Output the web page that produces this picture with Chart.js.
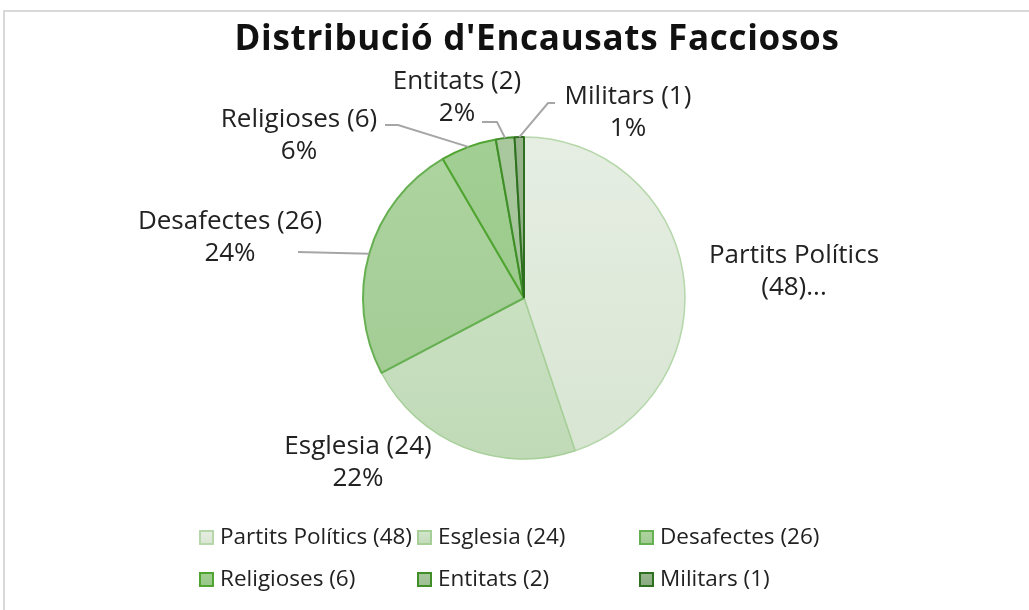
<!DOCTYPE html>
<html>
<head>
<meta charset="utf-8">
<title>Distribució d'Encausats Facciosos</title>
<script src="https://cdn.jsdelivr.net/npm/chart.js@4.4.1/dist/chart.umd.min.js"></script>
<style>
  html, body { margin: 0; padding: 0; background: #fff; overflow: hidden; }
  #wrap { position: relative; width: 1029px; height: 610px; }
  #frame { position: absolute; left: 3px; top: 10px; width: 1100px; height: 700px;
           border-top: 2px solid #d9d9d9; border-left: 2px solid #d9d9d9; }
  #pie { position: absolute; left: 0; top: 0; }
</style>
</head>
<body>
<div id="wrap">
  <div id="frame"></div>
  <canvas id="pie" width="1029" height="610"></canvas>
</div>
<script>
// data
const categories = ["Partits Polítics", "Esglesia", "Desafectes", "Religioses", "Entitats", "Militars"];
const counts = [48, 24, 26, 6, 2, 1];
// Excel cut the first data label short, keep it that way
const truncatedLabels = [0];

const chartTitle = "Distribució d'Encausats Facciosos";

// look
const topColors = ["#e6eee3", "#d2e6cb", "#aed4a0", "#a2cf93", "#a9c89e", "#98b58e"];
const bottomColors = ["#d8e5d2", "#c0dab7", "#a0ca92", "#96c787", "#9dbd92", "#8aa981"];
const borderColors = ["#b5d7aa", "#a6cf98", "#66b052", "#4fa52f", "#3f8e28", "#2f6f20"];
const borderWidths = [1.5, 1.5, 2, 2, 2, 2];

const FONT = "'Open Sans', 'DejaVu Sans', sans-serif";
const TEXT = "#222";
const LEADER = "#a6a6a6";

// label placement relative to pie centre (line 1 centre), leader start/elbow
const labelPos = [
  { dx: 270, dy: -42 },
  { dx: -166, dy: 149 },
  { dx: -294, dy: -76 },
  { dx: -225, dy: -178 },
  { dx: -67, dy: -216 },
  { dx: 104, dy: -201 }
];
const leaders = [
  null,
  null,
  [[-226, -46]],
  [[-139, -173], [-126, -173]],
  [[-42, -176], [-27, -176]],
  [[31, -195], [24, -195]]
];

const total = counts.reduce((a, b) => a + b, 0);
const legendLabels = categories.map((c, i) => c + " (" + counts[i] + ")");

function labelLines(i) {
  if (truncatedLabels.includes(i)) return [categories[i], "(" + counts[i] + ")..."];
  return [legendLabels[i], Math.round(counts[i] / total * 100) + "%"];
}

function sliceFill(c) {
  const area = c.chart.chartArea;
  const i = c.dataIndex;
  if (!area) return topColors[i];
  const g = c.chart.ctx.createLinearGradient(0, area.top, 0, area.bottom);
  g.addColorStop(0, topColors[i]);
  g.addColorStop(1, bottomColors[i]);
  return g;
}

const excelLabels = {
  id: "excelLabels",
  afterDatasetsDraw(chart) {
    const ctx = chart.ctx;
    const arcs = chart.getDatasetMeta(0).data;
    ctx.save();
    // leader lines
    ctx.strokeStyle = LEADER;
    ctx.lineWidth = 2;
    arcs.forEach((arc, i) => {
      const pts = leaders[i];
      if (!pts) return;
      const mid = (arc.startAngle + arc.endAngle) / 2;
      const ex = arc.x + Math.cos(mid) * arc.outerRadius;
      const ey = arc.y + Math.sin(mid) * arc.outerRadius;
      ctx.beginPath();
      ctx.moveTo(arc.x + pts[0][0], arc.y + pts[0][1]);
      for (let k = 1; k < pts.length; k++) ctx.lineTo(arc.x + pts[k][0], arc.y + pts[k][1]);
      ctx.lineTo(ex, ey);
      ctx.stroke();
    });
    // label text
    ctx.fillStyle = TEXT;
    ctx.font = "26px " + FONT;
    ctx.textAlign = "center";
    ctx.textBaseline = "middle";
    arcs.forEach((arc, i) => {
      const p = labelPos[i];
      labelLines(i).forEach((t, k) => {
        ctx.fillText(t, arc.x + p.dx, arc.y + p.dy + k * 32);
      });
    });
    ctx.restore();
  },
  afterDraw(chart) {
    const ctx = chart.ctx;
    ctx.save();
    // title
    ctx.fillStyle = "#111";
    ctx.font = "bold 35px " + FONT;
    ctx.letterSpacing = "0.7px";
    ctx.textAlign = "center";
    ctx.textBaseline = "middle";
    ctx.fillText(chartTitle, 537, 40);
    ctx.letterSpacing = "0px";
    // legend grid, three columns
    const cols = [200, 418, 640];
    const rows = [538, 580];
    ctx.font = "22.5px " + FONT;
    ctx.textAlign = "left";
    legendLabels.forEach((t, i) => {
      const x = cols[i % 3], y = rows[Math.floor(i / 3)];
      const g = ctx.createLinearGradient(0, y - 7, 0, y + 7);
      g.addColorStop(0, topColors[i]);
      g.addColorStop(1, bottomColors[i]);
      ctx.fillStyle = g;
      ctx.fillRect(x, y - 7, 13, 13);
      ctx.strokeStyle = borderColors[i];
      ctx.lineWidth = 2;
      ctx.strokeRect(x, y - 7, 13, 13);
      ctx.fillStyle = TEXT;
      ctx.fillText(t, x + 20, y);
    });
    ctx.restore();
  }
};

new Chart(document.getElementById("pie"), {
  type: "pie",
  data: {
    labels: legendLabels,
    datasets: [{
      data: counts,
      backgroundColor: sliceFill,
      borderColor: borderColors,
      borderWidth: borderWidths
    }]
  },
  options: {
    responsive: false,
    animation: false,
    layout: { padding: { left: 362, right: 343, top: 136, bottom: 150 } },
    plugins: {
      legend: { display: false },
      title: { display: false },
      tooltip: { enabled: false }
    }
  },
  plugins: [excelLabels]
});
</script>
</body>
</html>
